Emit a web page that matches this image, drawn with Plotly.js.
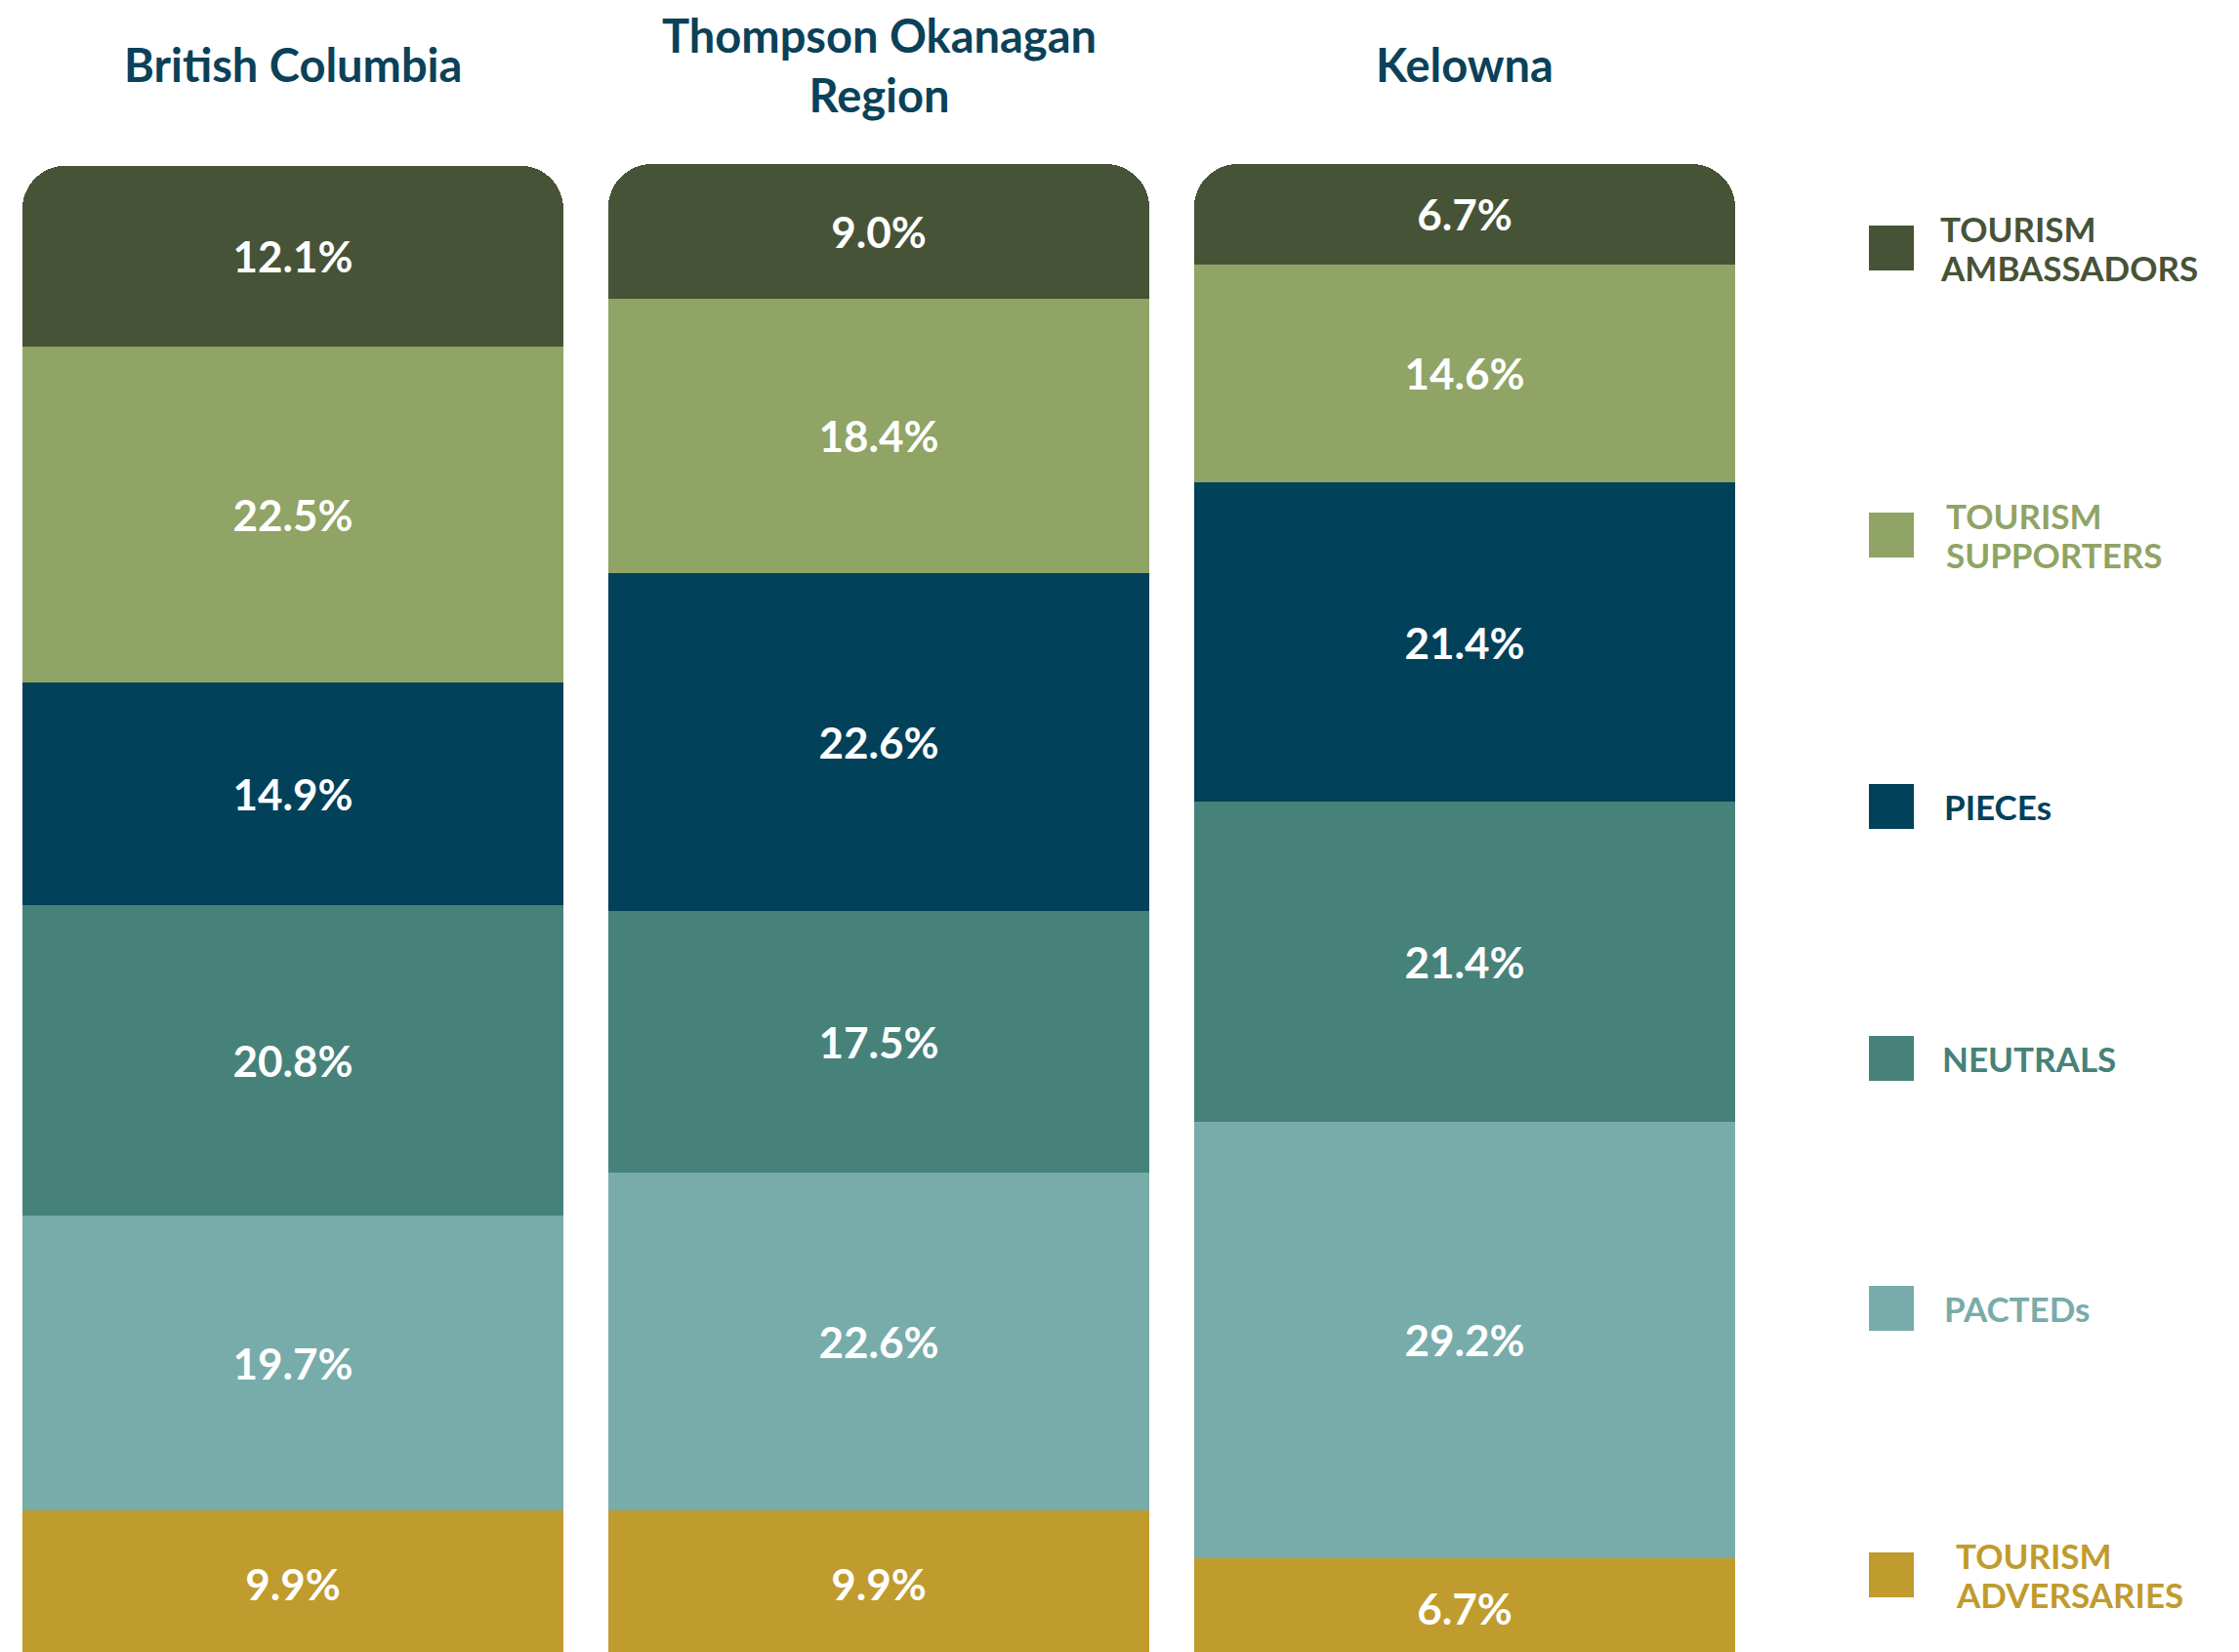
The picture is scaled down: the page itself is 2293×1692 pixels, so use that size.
<!DOCTYPE html>
<html>
<head>
<meta charset="utf-8">
<script src="https://cdn.plot.ly/plotly-3.0.1.min.js"></script>
<style>html,body{margin:0;padding:0;background:#fff;}#chart{width:2293px;height:1692px;}</style>
</head>
<body>
<div id="chart"></div>
<script>
// ---- data ----
const categories = ['British Columbia', 'Thompson Okanagan Region', 'Kelowna'];
const categoryTitles = ['British Columbia', 'Thompson Okanagan<br>Region', 'Kelowna'];
const ambassadors = [12.1, 9.0, 6.7];
const supporters = [22.5, 18.4, 14.6];
const pieces = [14.9, 22.6, 21.4];
const neutrals = [20.8, 17.5, 21.4];
const pacteds = [19.7, 22.6, 29.2];
const adversaries = [9.9, 9.9, 6.7];
const seriesNames = ['TOURISM ADVERSARIES', 'PACTEDs', 'NEUTRALS', 'PIECEs', 'TOURISM SUPPORTERS', 'TOURISM AMBASSADORS'];
const legendLabels = [['TOURISM', 'AMBASSADORS'], ['TOURISM', 'SUPPORTERS'], ['PIECEs'], ['NEUTRALS'], ['PACTEDs'], ['TOURISM', 'ADVERSARIES']];

// ---- styles ----
const seriesColors = ['#C09B2D', '#78ACAA', '#46827A', '#02415A', '#8FA465', '#475337'];
const legendColors = ['#475337', '#8FA465', '#02415A', '#46827A', '#78ACAA', '#C09B2D'];
const W = 2293, H = 1692;
const FONT = 'Lato, "Open Sans", sans-serif';
const px = x => x / W;
const py = y => 1 - y / H;

const seriesValues = [adversaries, pacteds, neutrals, pieces, supporters, ambassadors];
const traces = seriesValues.map((vals, i) => ({
  type: 'bar',
  x: categories,
  y: vals,
  name: seriesNames[i],
  marker: {color: seriesColors[i], line: {width: 0}},
  text: vals.map(v => v.toFixed(1) + '%'),
  textposition: 'inside',
  insidetextanchor: 'middle',
  textangle: 0,
  textfont: {family: FONT, size: 44, color: '#ffffff', weight: 700},
  hoverinfo: 'skip',
  showlegend: false
}));

const annotations = [];
categories.forEach((c, i) => {
  annotations.push({
    x: c, xref: 'x', y: py(66), yref: 'paper',
    text: categoryTitles[i], showarrow: false,
    xanchor: 'center', yanchor: 'middle', align: 'center',
    font: {family: FONT, size: 47, color: '#0B4159', weight: 700}
  });
});

const legendCY = [254, 548, 826, 1084, 1340, 1613];
const legendTX = [1985, 1991, 1989, 1987, 1989, 2001];
const shapes = [];
legendLabels.forEach((lines, i) => {
  const cy = legendCY[i];
  shapes.push({
    type: 'rect', xref: 'paper', yref: 'paper',
    x0: px(1914), x1: px(1960), y0: py(cy - 23), y1: py(cy + 23),
    fillcolor: legendColors[i], line: {width: 0}
  });
  const n = lines.length;
  lines.forEach((ln, j) => {
    const yy = cy + (j - (n - 1) / 2) * 40;
    annotations.push({
      x: px(legendTX[i]), xref: 'paper', y: py(yy), yref: 'paper',
      text: ln, showarrow: false, xanchor: 'left', yanchor: 'middle', align: 'left',
      font: {family: FONT, size: 35, color: legendColors[i], weight: 700}
    });
  });
});

const layout = {
  width: W, height: H,
  margin: {l: 0, r: 0, t: 0, b: 0, pad: 0},
  paper_bgcolor: '#ffffff', plot_bgcolor: '#ffffff',
  barmode: 'stack',
  bargap: 0.076,
  barcornerradius: 45,
  showlegend: false,
  xaxis: {domain: [0, 1800 / W], range: [-0.5, 2.5], visible: false, fixedrange: true},
  yaxis: {domain: [0, 1 - 168 / H], range: [0.4, 100], visible: false, fixedrange: true},
  annotations: annotations,
  shapes: shapes,
  font: {family: FONT}
};

Plotly.newPlot('chart', traces, layout, {staticPlot: true, displayModeBar: false});
</script>
</body>
</html>
